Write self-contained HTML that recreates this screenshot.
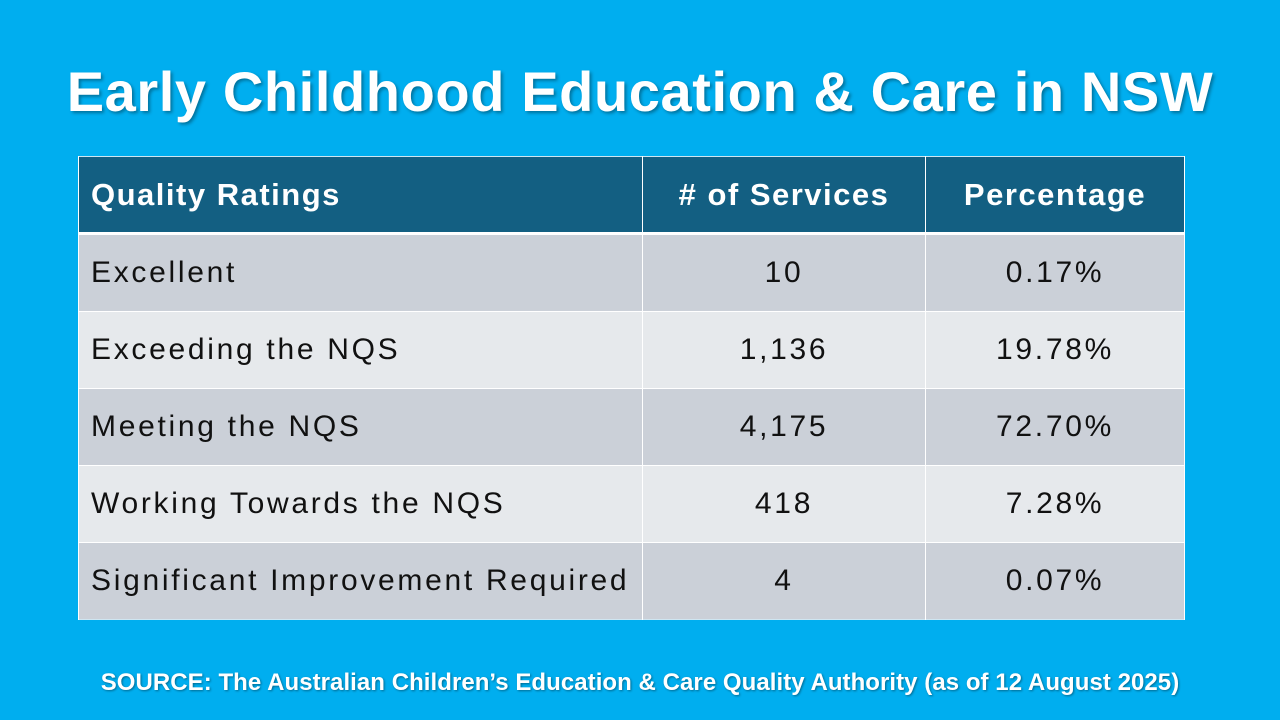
<!DOCTYPE html>
<html><head><meta charset="utf-8"><style>
html,body{margin:0;padding:0}
body{width:1280px;height:720px;background:#00AEEF;position:relative;overflow:hidden;font-family:"Liberation Sans","DejaVu Sans",sans-serif}
.title{position:absolute;left:0;width:1280px;top:57px;text-align:center;color:#fff;font-weight:bold;font-size:56px;line-height:70px;text-shadow:2px 2px 3px rgba(0,0,0,.35);letter-spacing:0.6px}
table{position:absolute;left:78px;top:156px;border-collapse:collapse;width:1107px;border:1px solid #cfe6f2}
td,th{padding:0 12px;font-size:30px;border-left:1px solid #fff;border-right:1px solid #fff}
th{background:#135F82;color:#fff;font-weight:bold;height:75px;border-bottom:3px solid #fff;font-size:31px;letter-spacing:1.5px}
td{height:76px;color:#111;border-top:1px solid #fff;letter-spacing:2.7px}
tr.a td{background:#CBD0D8}
tr.b td{background:#E6E9EC}
.c1{width:539px;text-align:left}
.c2{width:258px;text-align:center}
.c3{text-align:center}
.src{position:absolute;left:0;width:1280px;top:669px;text-align:center;color:#fff;font-weight:bold;font-size:24px;letter-spacing:0.05px;text-shadow:1px 1px 2px rgba(0,0,0,.4)}
</style></head><body>
<div class="title">Early Childhood Education &amp; Care in NSW</div>
<table>
<tr><th class="c1">Quality Ratings</th><th class="c2"># of Services</th><th class="c3">Percentage</th></tr>
<tr class="a"><td class="c1">Excellent</td><td class="c2">10</td><td class="c3">0.17%</td></tr>
<tr class="b"><td class="c1">Exceeding the NQS</td><td class="c2">1,136</td><td class="c3">19.78%</td></tr>
<tr class="a"><td class="c1">Meeting the NQS</td><td class="c2">4,175</td><td class="c3">72.70%</td></tr>
<tr class="b"><td class="c1">Working Towards the NQS</td><td class="c2">418</td><td class="c3">7.28%</td></tr>
<tr class="a"><td class="c1">Significant Improvement Required</td><td class="c2">4</td><td class="c3">0.07%</td></tr>
</table>
<div class="src">SOURCE: The Australian Children’s Education &amp; Care Quality Authority (as of 12 August 2025)</div>
</body></html>
